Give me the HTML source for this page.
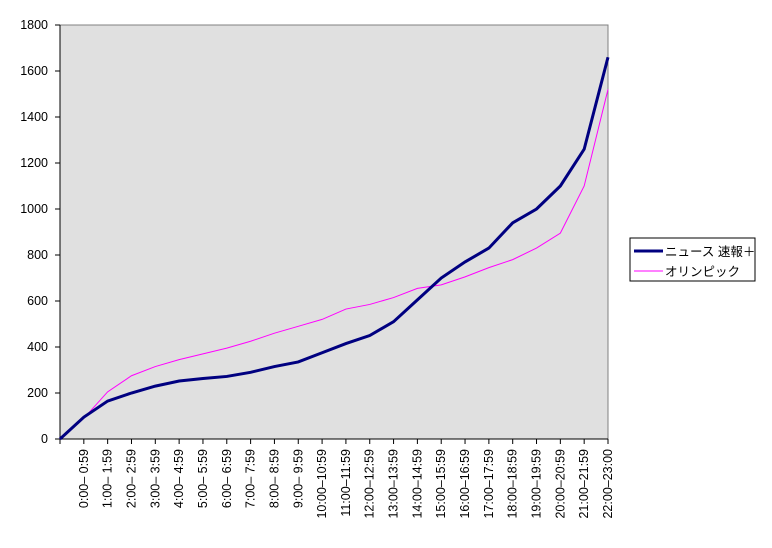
<!DOCTYPE html>
<html><head><meta charset="utf-8"><style>
body{margin:0;background:#fff;width:772px;height:543px;overflow:hidden}
text{font-family:"Liberation Sans","Noto Sans CJK JP",sans-serif;font-size:12.5px;fill:#000}
.xl text{font-size:12.5px}
</style></head><body>
<svg width="772" height="543" xmlns="http://www.w3.org/2000/svg">
<rect x="60" y="25" width="548" height="414" fill="#e0e0e0" stroke="#808080"/>
<g stroke="#000">
<line x1="60" x2="60" y1="25" y2="439"/><line x1="60" x2="608" y1="439" y2="439"/>
<line x1="55" x2="60" y1="439" y2="439"/><line x1="55" x2="60" y1="393" y2="393"/><line x1="55" x2="60" y1="347" y2="347"/><line x1="55" x2="60" y1="301" y2="301"/><line x1="55" x2="60" y1="255" y2="255"/><line x1="55" x2="60" y1="209" y2="209"/><line x1="55" x2="60" y1="163" y2="163"/><line x1="55" x2="60" y1="117" y2="117"/><line x1="55" x2="60" y1="71" y2="71"/><line x1="55" x2="60" y1="25" y2="25"/>
<path d="M60 439v5M83.83 439v5M107.65 439v5M131.48 439v5M155.3 439v5M179.13 439v5M202.96 439v5M226.78 439v5M250.61 439v5M274.43 439v5M298.26 439v5M322.09 439v5M345.91 439v5M369.74 439v5M393.57 439v5M417.39 439v5M441.22 439v5M465.04 439v5M488.87 439v5M512.7 439v5M536.52 439v5M560.35 439v5M584.17 439v5M608 439v5"/>
</g>
<g text-anchor="end" class="xl">
<text x="48" y="443">0</text><text x="48" y="397">200</text><text x="48" y="351">400</text><text x="48" y="305">600</text><text x="48" y="259">800</text><text x="48" y="213">1000</text><text x="48" y="167">1200</text><text x="48" y="121">1400</text><text x="48" y="75">1600</text><text x="48" y="29">1800</text>
<text transform="translate(88,449) rotate(-90)">0:00– 0:59</text>
<text transform="translate(111.6,449) rotate(-90)">1:00– 1:59</text>
<text transform="translate(135.5,449) rotate(-90)">2:00– 2:59</text>
<text transform="translate(159.3,449) rotate(-90)">3:00– 3:59</text>
<text transform="translate(183.1,449) rotate(-90)">4:00– 4:59</text>
<text transform="translate(207,449) rotate(-90)">5:00– 5:59</text>
<text transform="translate(230.8,449) rotate(-90)">6:00– 6:59</text>
<text transform="translate(254.6,449) rotate(-90)">7:00– 7:59</text>
<text transform="translate(278.4,449) rotate(-90)">8:00– 8:59</text>
<text transform="translate(302.3,449) rotate(-90)">9:00– 9:59</text>
<text transform="translate(326.1,449) rotate(-90)">10:00–10:59</text>
<text transform="translate(349.9,449) rotate(-90)">11:00–11:59</text>
<text transform="translate(373.7,449) rotate(-90)">12:00–12:59</text>
<text transform="translate(397.6,449) rotate(-90)">13:00–13:59</text>
<text transform="translate(421.4,449) rotate(-90)">14:00–14:59</text>
<text transform="translate(445.2,449) rotate(-90)">15:00–15:59</text>
<text transform="translate(469,449) rotate(-90)">16:00–16:59</text>
<text transform="translate(492.9,449) rotate(-90)">17:00–17:59</text>
<text transform="translate(516.7,449) rotate(-90)">18:00–18:59</text>
<text transform="translate(540.5,449) rotate(-90)">19:00–19:59</text>
<text transform="translate(564.3,449) rotate(-90)">20:00–20:59</text>
<text transform="translate(588.2,449) rotate(-90)">21:00–21:59</text>
<text transform="translate(612,449) rotate(-90)">22:00–23:00</text>
</g>
<polyline fill="none" stroke="#ff00ff" stroke-width="1" points="60,439 83.83,418.3 107.65,391.85 131.48,375.75 155.3,366.55 179.13,359.65 202.96,353.9 226.78,348.15 250.61,341.25 274.43,333.2 298.26,326.3 322.09,319.4 345.91,309.05 369.74,304.45 393.57,297.55 417.39,288.35 441.22,284.9 465.04,276.85 488.87,267.65 512.7,259.6 536.52,248.1 560.35,233.15 584.17,186 608,89.4"/>
<polyline fill="none" stroke="#000080" stroke-width="3" points="60,439 83.83,417.15 107.65,401.05 131.48,393 155.3,386.1 179.13,381.04 202.96,378.51 226.78,376.44 250.61,372.3 274.43,366.55 298.26,361.95 322.09,352.75 345.91,343.55 369.74,335.5 393.57,321.7 417.39,299.85 441.22,278 465.04,261.9 488.87,248.1 512.7,222.8 536.52,209 560.35,186 584.17,149.2 608,57.2"/>
<rect x="630" y="238" width="125" height="43" fill="#fff" stroke="#000"/>
<line x1="634" x2="663" y1="251" y2="251" stroke="#000080" stroke-width="3"/>
<text x="665" y="256">ニュース 速報＋</text>
<line x1="634" x2="663" y1="271" y2="271" stroke="#ff00ff"/>
<text x="665" y="276">オリンピック</text>
</svg>
</body></html>
